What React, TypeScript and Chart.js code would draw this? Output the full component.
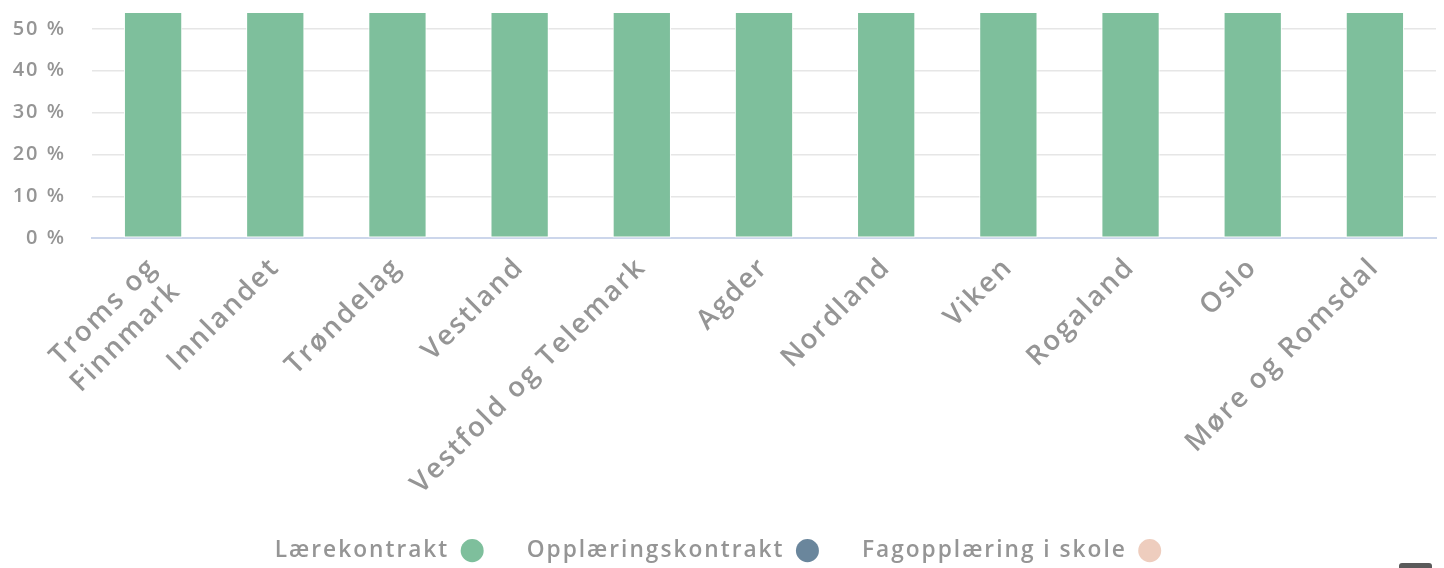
import React, { useEffect, useRef } from "react";
import { Chart, registerables } from "chart.js";

Chart.register(...registerables);

// ---- data ----
const categories: (string | string[])[] = [
  ["Troms og", "Finnmark"],
  "Innlandet",
  "Trøndelag",
  "Vestland",
  "Vestfold og Telemark",
  "Agder",
  "Nordland",
  "Viken",
  "Rogaland",
  "Oslo",
  "Møre og Romsdal",
];
// The visible part of the chart only shows that every Lærekontrakt bar exceeds the top of the plot (~54 %).
const laerekontrakt = [72, 76, 78, 80, 77, 79, 74, 81, 83, 70, 82];
const opplaeringskontrakt = [6, 5, 4, 4, 5, 5, 6, 4, 3, 6, 4];
const fagopplaering = [3, 2, 2, 2, 3, 2, 3, 2, 2, 3, 2];
const seriesNames = ["Lærekontrakt", "Opplæringskontrakt", "Fagopplæring i skole"];
const seriesColors = ["#7ebf9c", "#6a869c", "#eecdbe"];
const yTicks = [0, 10, 20, 30, 40, 50];
const yMax = 53.8;

const TEXT = "#959595";
const FAMILY = "'Open Sans', 'DejaVu Sans', sans-serif";
const Y_FONT = { family: FAMILY, size: 20, weight: 600 as any };
const X_FONT = { family: FAMILY, size: 27.5, weight: 600 as any };
const LEGEND_FONT = { family: FAMILY, size: 22.7, weight: 600 as any };

const spacingPlugin = {
  id: "letterSpacing",
  beforeLayout(chart: any) {
    chart.ctx.letterSpacing = "2px";
  },
  beforeDraw(chart: any) {
    chart.ctx.letterSpacing = "2px";
  },
};

export default function App() {
  const ref = useRef<HTMLCanvasElement | null>(null);

  useEffect(() => {
    document.body.style.margin = "0";
    if (!ref.current) return;
    const values = [laerekontrakt, opplaeringskontrakt, fagopplaering];
    const chart = new Chart(ref.current, {
      type: "bar",
      data: {
        labels: categories,
        datasets: seriesNames.map((name, i) => ({
          label: name,
          data: values[i],
          backgroundColor: seriesColors[i],
          borderColor: "#ffffff",
          borderWidth: 1,
          borderSkipped: false,
          categoryPercentage: 1,
          barPercentage: 0.477,
        })),
      },
      plugins: [spacingPlugin],
      options: {
        animation: false,
        responsive: false,
        layout: { padding: { top: 13, right: 8, left: 0, bottom: -4 } },
        plugins: {
          tooltip: { enabled: false },
          legend: {
            position: "bottom",
            rtl: true,
            reverse: true,
            labels: {
              color: TEXT,
              font: LEGEND_FONT,
              usePointStyle: true,
              pointStyle: "circle",
              boxHeight: 16.3,
              pointStyleWidth: 23,
              padding: 43,
              generateLabels: (c: any) =>
                (Chart.defaults.plugins.legend.labels.generateLabels as any)(c).map((l: any) => ({
                  ...l,
                  lineWidth: 0,
                  strokeStyle: l.fillStyle,
                })),
            },
          },
        },
        scales: {
          x: {
            stacked: true,
            grid: { display: false, drawTicks: false },
            border: { color: "#ccd6eb", width: 2 },
            ticks: {
              autoSkip: false,
              minRotation: 45,
              maxRotation: 45,
              color: TEXT,
              font: X_FONT,
              padding: 13,
            },
            afterFit: (s: any) => {
              s.height = 258;
              s.paddingLeft = 0;
              s.paddingRight = 0;
            },
          },
          y: {
            stacked: true,
            min: 0,
            max: yMax,
            afterBuildTicks: (axis: any) => {
              axis.ticks = yTicks.map((v) => ({ value: v }));
            },
            afterFit: (s: any) => {
              s.width = 92;
              s.paddingTop = 0;
              s.paddingBottom = 0;
            },
            border: { display: false },
            grid: {
              drawTicks: false,
              lineWidth: 1.5,
              color: (ctx: any) => (ctx.tick && ctx.tick.value === 0 ? "rgba(0,0,0,0)" : "#e6e6e6"),
            },
            ticks: {
              padding: 26,
              color: TEXT,
              font: Y_FONT,
              callback: (v: any) => `${v} %`,
            },
          },
        },
      },
    });
    return () => chart.destroy();
  }, []);

  return (
    <div style={{ position: "relative", width: 1444, height: 568, overflow: "hidden" }}>
      <canvas ref={ref} width={1444} height={568} />
      <div
        style={{
          position: "absolute",
          left: 1399,
          top: 563,
          width: 33,
          height: 10,
          background: "#5a5a5a",
          borderRadius: 3,
        }}
      />
    </div>
  );
}
